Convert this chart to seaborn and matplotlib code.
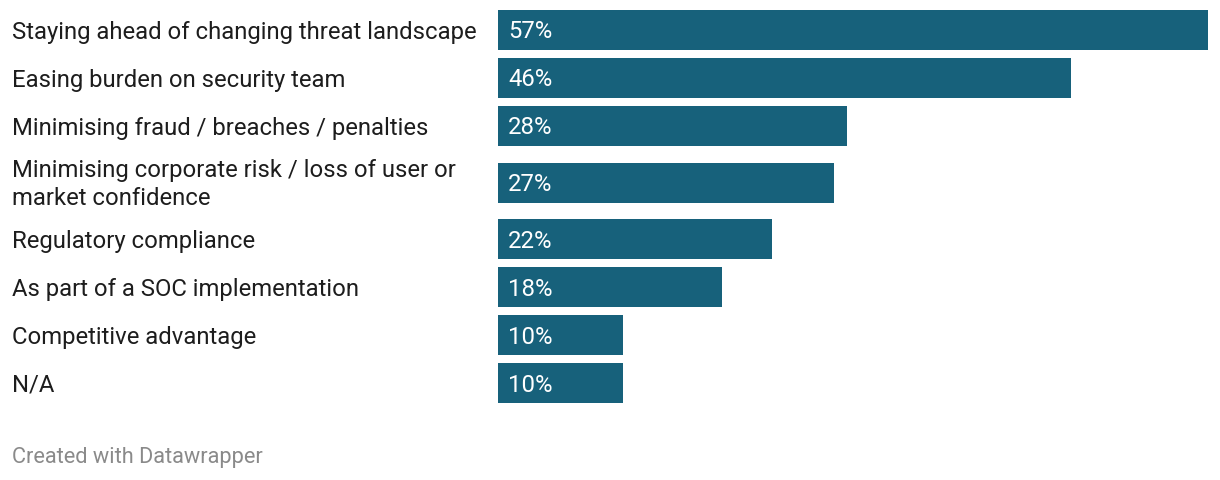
import matplotlib
matplotlib.use("Agg")
import matplotlib.pyplot as plt
import matplotlib.transforms as mtransforms
import seaborn as sns
import pandas as pd

# Data
categories = [
    "Staying ahead of changing threat landscape",
    "Easing burden on security team",
    "Minimising fraud / breaches / penalties",
    "Minimising corporate risk / loss of user or\nmarket confidence",
    "Regulatory compliance",
    "As part of a SOC implementation",
    "Competitive advantage",
    "N/A",
]
values = [57, 46, 28, 27, 22, 18, 10, 10]
value_labels = ["57%", "46%", "28%", "27%", "22%", "18%", "10%", "10%"]

# row positions: one unit per row, a bit more room for two-line labels
extra_per_line = 0.36
pos = []
y = 0.0
for i, lab in enumerate(categories):
    half_extra = (lab.count("\n") * extra_per_line) / 2
    if i > 0:
        y += 1
    y += half_extra
    pos.append(y)
    y += half_extra

df = pd.DataFrame({"label": categories, "value": values, "pos": pos})

sns.set_theme(style="white")
plt.rcParams["font.family"] = ["Roboto", "DejaVu Sans"]

W, H = 1220, 480
fig = plt.figure(figsize=(W / 100, H / 100), dpi=100)

bar_w = 40 / 48
unit_px = 48
span = (pos[-1] - pos[0] + bar_w) * unit_px
top_px = 10
ax = fig.add_axes([498 / W, 1 - (top_px + span) / H, (1208 - 498) / W, span / H])

sns.barplot(data=df, x="value", y="pos", orient="y", native_scale=True,
            width=bar_w, color="#17617b", saturation=1, ax=ax, linewidth=0)

ax.set_xlim(0, max(values))
ax.set_ylim(pos[-1] + bar_w / 2, pos[0] - bar_w / 2)
ax.axis("off")

# category labels on the left
trans = mtransforms.blended_transform_factory(fig.transFigure, ax.transData)
for p, lab in zip(pos, categories):
    ax.annotate(lab, xy=(12 / W, p), xycoords=trans, xytext=(0, -2),
                textcoords="offset pixels", ha="left", va="center",
                fontsize=17.2, color="#1d1d1d", linespacing=1.27)

# value labels inside the bars
for p, txt in zip(pos, value_labels):
    ax.annotate(txt, xy=(0, p), xytext=(10, -2), textcoords="offset pixels",
                ha="left", va="center", fontsize=17.2, color="white")

fig.text(12 / W, 1 - 458 / H, "Created with Datawrapper", ha="left", va="center",
         fontsize=15.7, color="#8a8a8a")

fig.savefig("out.png", dpi=100)
